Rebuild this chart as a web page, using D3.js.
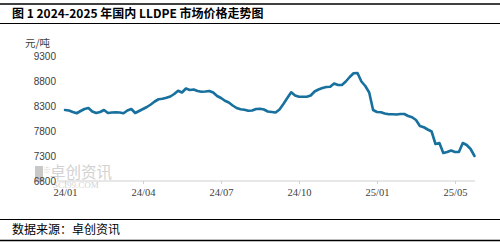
<!DOCTYPE html>
<html>
<head>
<meta charset="utf-8">
<script src="https://cdn.jsdelivr.net/npm/d3@7"></script>
<style>
body { margin: 0; background: #fff; }
svg { display: block; }
</style>
</head>
<body>
<svg id="chart"></svg>
<script>
// LLDPE domestic price, yuan/ton at even steps
const prices = [
    8220, 8210, 8180, 8155, 8200, 8240, 8260, 8190, 8160, 8180,
    8220, 8160, 8170, 8175, 8170, 8155, 8210, 8240, 8160, 8200,
    8240, 8280, 8330, 8390, 8435, 8445, 8465, 8490, 8540, 8605,
    8570, 8650, 8620, 8630, 8600, 8585, 8590, 8600, 8570, 8500,
    8460, 8405, 8370, 8310, 8260, 8235, 8225, 8205, 8210, 8240,
    8245, 8230, 8190, 8180, 8170, 8230, 8340, 8460, 8575, 8510,
    8485, 8485, 8485, 8510, 8590, 8630, 8660, 8680, 8685, 8750,
    8720, 8720, 8790, 8880, 8955, 8960, 8790, 8700, 8570, 8220,
    8180, 8175, 8150, 8135, 8135, 8130, 8140, 8140, 8100, 8075,
    8020, 7900, 7875, 7830, 7790, 7540, 7560, 7360, 7380, 7410,
    7380, 7380, 7560, 7520, 7440, 7300
];
const xTickIdx = [0, 20, 40, 60, 80, 100];
const xTickLabels = ["24/01", "24/04", "24/07", "24/10", "25/01", "25/05"];
const yTicks = [6800, 7300, 7800, 8300, 8800, 9300];

const width = 500,
    height = 242;
const svg = d3.select("#chart").attr("width", width).attr("height", height);

const xScale = d3.scaleLinear().domain([0, prices.length - 1]).range([65, 474.5]);
const yScale = d3.scaleLinear().domain([6800, 9300]).range([181, 56]);

// title block
svg.append("line").attr("x1", 0).attr("x2", 500).attr("y1", 4).attr("y2", 4)
    .attr("stroke", "#000").attr("stroke-width", 1.5);
svg.append("line").attr("x1", 0).attr("x2", 500).attr("y1", 23.5).attr("y2", 23.5)
    .attr("stroke", "#000").attr("stroke-width", 1);
svg.append("text").attr("x", 12).attr("y", 18)
    .attr("font-family", "'Noto Sans CJK SC', sans-serif")
    .attr("font-size", 12).attr("font-weight", "bold").attr("fill", "#000")
    .text("图 1 2024-2025 年国内 LLDPE 市场价格走势图");

// unit
svg.append("text").attr("x", 25).attr("y", 47)
    .attr("font-family", "'Noto Sans CJK SC', sans-serif")
    .attr("font-size", 10.5).attr("fill", "#404040")
    .text("元/吨");

// watermark
const wm = svg.append("g").attr("fill", "#d2d2d2");
wm.append("rect").attr("x", 35).attr("y", 166).attr("width", 8).attr("height", 16).attr("fill", "#c8c8c8");
wm.append("text").attr("x", 43).attr("y", 173).attr("font-size", 8)
    .attr("font-family", "'Noto Sans CJK SC', sans-serif").text("※");
wm.append("text").attr("x", 50).attr("y", 178).attr("font-size", 15.5)
    .attr("font-family", "'Noto Sans CJK SC', sans-serif").text("卓创资讯");
wm.append("text").attr("x", 53).attr("y", 188).attr("font-size", 9)
    .attr("font-family", "'Liberation Serif', serif").text("SCI99.COM");

// y axis labels (no axis line)
const yAxis = d3.axisLeft(yScale).tickValues(yTicks)
    .tickFormat(d3.format("d")).tickSize(0).tickPadding(0);
const gy = svg.append("g").attr("transform", "translate(56,0)").call(yAxis);
gy.select(".domain").remove();
gy.selectAll("text")
    .attr("font-family", "'Liberation Sans', Arial, sans-serif")
    .attr("font-size", 10).attr("fill", "#404040");

// x axis
const xAxis = d3.axisBottom(xScale)
    .tickValues(xTickIdx)
    .tickFormat((d, i) => xTickLabels[i])
    .tickSizeInner(3).tickSizeOuter(0).tickPadding(5);
const gx = svg.append("g").attr("transform", "translate(0,181)").call(xAxis);
gx.select(".domain").remove();
gx.append("line").attr("x1", 57).attr("x2", 475).attr("y1", 0).attr("y2", 0)
    .attr("stroke", "#d0d0d0");
gx.selectAll(".tick line").attr("stroke", "#d0d0d0");
gx.selectAll("text")
    .attr("font-family", "'Liberation Serif', serif")
    .attr("font-size", 10.5).attr("fill", "#404040");

// price line
const line = d3.line()
    .x((d, i) => xScale(i))
    .y((d) => yScale(d));
svg.append("path").datum(prices)
    .attr("d", line)
    .attr("fill", "none")
    .attr("stroke", "#17709d")
    .attr("stroke-width", 2.6)
    .attr("stroke-linejoin", "round")
    .attr("stroke-linecap", "round");

// source block
svg.append("line").attr("x1", 0).attr("x2", 500).attr("y1", 219.5).attr("y2", 219.5)
    .attr("stroke", "#000").attr("stroke-width", 1);
svg.append("text").attr("x", 12).attr("y", 234)
    .attr("font-family", "'Noto Sans CJK SC', sans-serif")
    .attr("font-size", 12).attr("fill", "#000")
    .text("数据来源：卓创资讯");
svg.append("line").attr("x1", 0).attr("x2", 500).attr("y1", 240.5).attr("y2", 240.5)
    .attr("stroke", "#000").attr("stroke-width", 1.5);
</script>
</body>
</html>
